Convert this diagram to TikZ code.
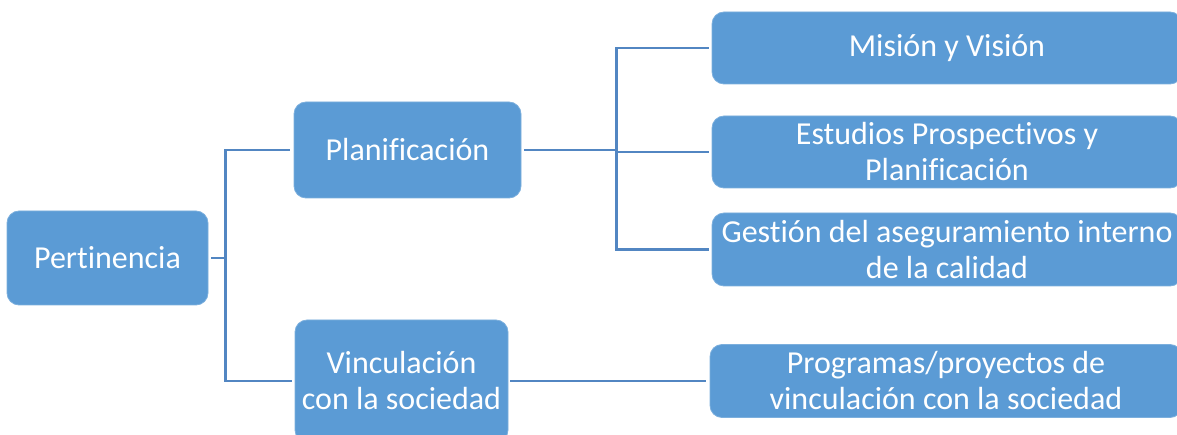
\documentclass[tikz,border=0pt]{standalone}
\usepackage{fontspec}
\setmainfont[Ligatures=NoCommon]{Carlito}
\definecolor{boxblue}{HTML}{5B9BD5}
\definecolor{lineblue}{RGB}{82,134,194}
\begin{document}
\begin{tikzpicture}[x=1pt,y=-1pt,
  box/.style={fill=boxblue, draw=boxblue!80!white, line width=0.8pt, rounded corners=12pt,
    text=white, align=center, inner sep=0pt,
    font=\fontsize{32}{36}\selectfont},
  conn/.style={draw=lineblue, line width=2.8pt}]
\useasboundingbox (0,0) rectangle (1177,435);
\node[box, minimum width=201pt, minimum height=94pt] (pert) at (107.5,258) {Pertinencia};
\node[box, minimum width=227pt, minimum height=96pt] (plan) at (407.5,150) {Planificación};
\node[box, minimum width=213pt, minimum height=122pt] (vinc) at (401.5,381) {Vinculación\\con la sociedad};
\node[box, minimum width=470pt, minimum height=72pt] (mis) at (947,48) {Misión y Visión};
\node[box, minimum width=470pt, minimum height=72pt] (est) at (947,152) {Estudios Prospectivos y\\Planificación};
\node[box, minimum width=470pt, minimum height=73pt] (ges) at (947,249.5) {Gestión del aseguramiento interno\\de la calidad};
\node[box, minimum width=472pt, minimum height=73pt] (prog) at (946,381) {Programas/proyectos de\\vinculación con la sociedad};
% connectors
\draw[conn] ([xshift=3pt]pert.east) -- ([xshift=17pt]pert.east) coordinate (j1);
\draw[conn] (j1) |- ([xshift=-4pt]plan.west);
\draw[conn] (j1) |- ([xshift=-3pt]vinc.west);
\draw[conn] ([xshift=3pt]plan.east) -- ([xshift=95pt]plan.east) coordinate (j2);
\draw[conn] (j2) |- ([xshift=-3pt]mis.west);
\draw[conn] (j2) |- ([xshift=-3pt]est.west);
\draw[conn] (j2) |- ([xshift=-3pt]ges.west);
\draw[conn] ([xshift=2pt]vinc.east) -- ([xshift=-4pt]prog.west);
\end{tikzpicture}
\end{document}
